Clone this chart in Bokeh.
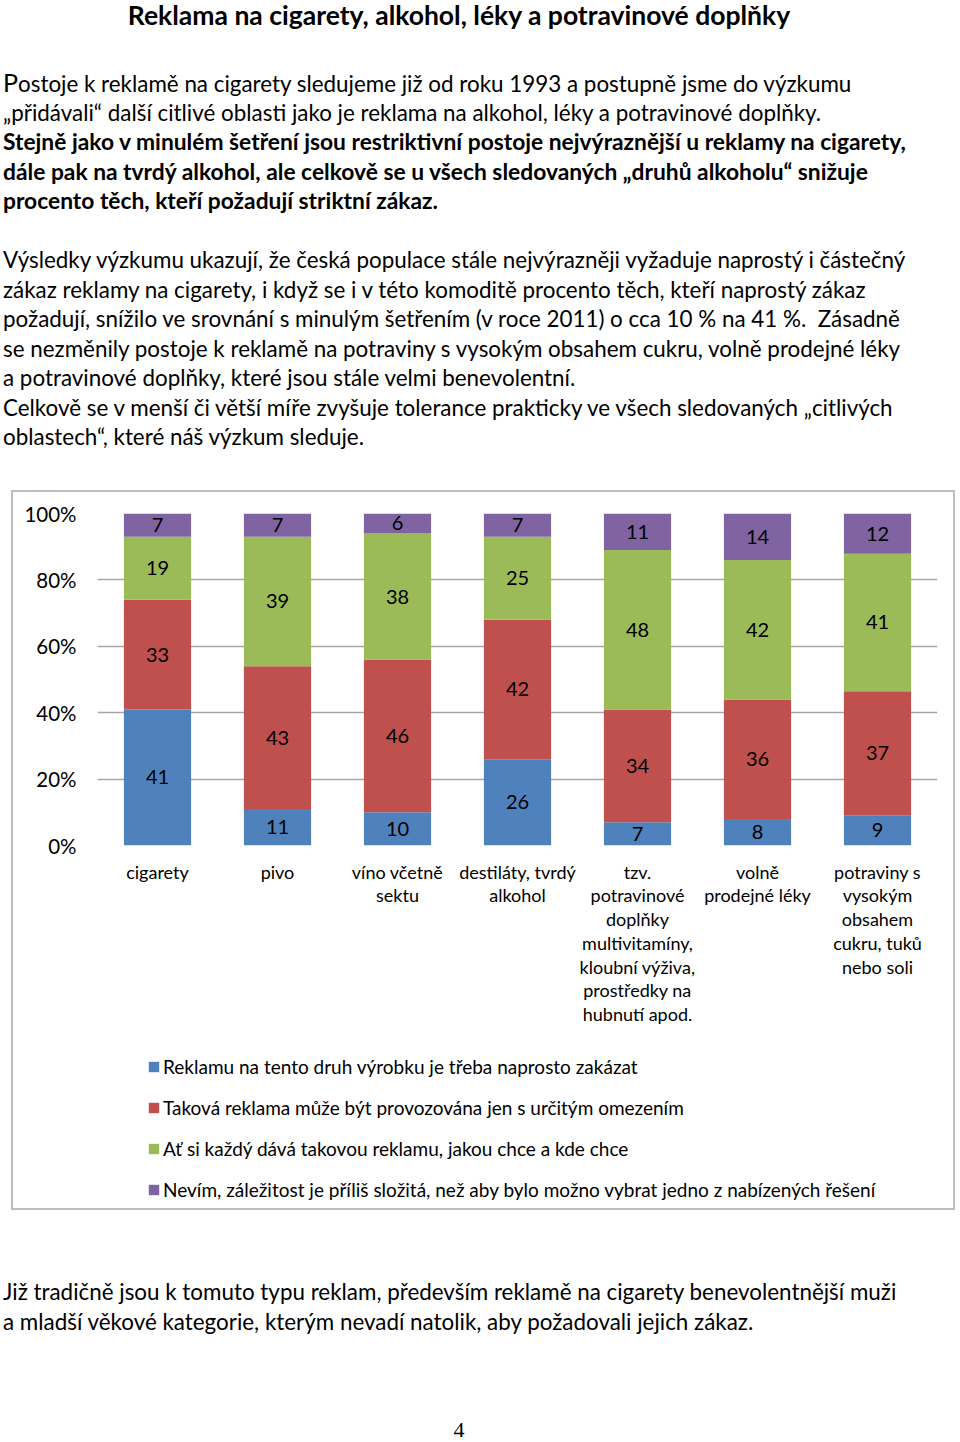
from bokeh.plotting import figure
from bokeh.models import Div, FactorRange, Range1d, Legend, LegendItem, PrintfTickFormatter, FixedTicker, ColumnDataSource
from bokeh.layouts import column
from bokeh.embed import file_html
from bokeh.resources import INLINE
from bokeh.core.properties import value
import numpy as np

FONT = "Lato"

# ---------------- data ----------------
categories = [
    "cigarety",
    "pivo",
    "víno včetně\nsektu",
    "destiláty, tvrdý\nalkohol",
    "tzv.\npotravinové\ndoplňky\nmultivitamíny,\nkloubní výživa,\nprostředky na\nhubnutí apod.",
    "volně\nprodejné léky",
    "potraviny s\nvysokým\nobsahem\ncukru, tuků\nnebo soli",
]
zakazat = [41, 11, 10, 26, 7, 8, 9]
omezeni = [33, 43, 46, 42, 34, 36, 37]
kazdy = [19, 39, 38, 25, 48, 42, 41]
nevim = [7, 7, 6, 7, 11, 14, 12]
series_names = [
    "Reklamu na tento druh výrobku je třeba naprosto zakázat",
    "Taková reklama může být provozována jen s určitým omezením",
    "Ať si každý dává takovou reklamu, jakou chce a kde chce",
    "Nevím, záležitost je příliš složitá, než aby bylo možno vybrat jedno z nabízených řešení",
]
colors = ["#4F81BD", "#C0504D", "#9BBB59", "#8064A2"]
y_ticks = [0, 20, 40, 60, 80, 100]

# ---------------- text ----------------
title = "Reklama na cigarety, alkohol, léky a potravinové doplňky"
para1 = [
    "Postoje k reklamě na cigarety sledujeme již od roku 1993 a postupně jsme do výzkumu",
    "„přidávali“ další citlivé oblasti jako je reklama na alkohol, léky a potravinové doplňky.",
]
para1_bold = [
    "Stejně jako v minulém šetření jsou restriktivní postoje nejvýraznější u reklamy na cigarety,",
    "dále pak na tvrdý alkohol, ale celkově se u všech sledovaných „druhů alkoholu“ snižuje",
    "procento těch, kteří požadují striktní zákaz.",
]
para2 = [
    "Výsledky výzkumu ukazují, že česká populace stále nejvýrazněji vyžaduje naprostý i částečný",
    "zákaz reklamy na cigarety, i když se i v této komoditě procento těch, kteří naprostý zákaz",
    "požadují, snížilo ve srovnání s minulým šetřením (v roce 2011) o cca 10 % na 41 %.&nbsp; Zásadně",
    "se nezměnily postoje k reklamě na potraviny s vysokým obsahem cukru, volně prodejné léky",
    "a potravinové doplňky, které jsou stále velmi benevolentní.",
    "Celkově se v menší či větší míře zvyšuje tolerance prakticky ve všech sledovaných „citlivých",
    "oblastech“, které náš výzkum sleduje.",
]
para3 = [
    "Již tradičně jsou k tomuto typu reklam, především reklamě na cigarety benevolentnější muži",
    "a mladší věkové kategorie, kterým nevadí natolik, aby požadovali jejich zákaz.",
]
page_no = "4"

LH = 29.5
line_style = f"height:{LH}px;line-height:{LH}px;white-space:nowrap;"

def lines(ls, bold=False):
    w = "font-weight:bold;font-size:22.8px;" if bold else ""
    return "".join(f'<div style="{line_style}{w}">{t}</div>' for t in ls)

p1 = list(para1)
p1[0] = '<span style="font-size:25px">P</span>' + p1[0][1:]

top_html = (
    f'<div style="font-family:{FONT};color:#000;font-size:22.4px;margin-left:-2px;width:944px;">'
    f'<div style="height:28px;line-height:28px;margin-top:-4px;width:912px;text-align:center;font-weight:bold;font-size:26.5px;white-space:nowrap;">{title}</div>'
    f'<div style="height:39px"></div>'
    + lines(p1) + lines(para1_bold, True)
    + f'<div style="height:{LH}px"></div>'
    + lines(para2)
    + '</div>'
)
top_div = Div(text=top_html, width=944, height=480)

bottom_html = (
    f'<div style="font-family:{FONT};color:#000;font-size:22.4px;margin-left:-2px;width:944px;">'
    f'<div style="height:62px"></div>'
    + lines(para3)
    + '<div style="height:86px"></div>'
    + f'<div style="height:16px;line-height:16px;width:912px;text-align:center;font-family:\'Liberation Serif\';font-size:22px;">{page_no}</div>'
    + '</div>'
)
bottom_div = Div(text=bottom_html, width=944, height=224)

# ---------------- chart ----------------
vals = np.array([zakazat, omezeni, kazdy, nevim], dtype=float)
tot = vals.sum(axis=0)
share = vals / tot * 100.0
keys = ["s0", "s1", "s2", "s3"]
src = ColumnDataSource(dict(cat=categories, **{k: share[i] for i, k in enumerate(keys)}))

CH_TOP, FR_H, CH_BOT = 21, 332, 200
LEG_H = 716 - CH_TOP - FR_H - CH_BOT

p = figure(
    x_range=FactorRange(*categories),
    y_range=Range1d(0, 100),
    width=940, height=CH_TOP + FR_H + CH_BOT,
    frame_width=840, frame_height=FR_H,
    min_border_left=84, min_border_right=16, min_border_top=CH_TOP, min_border_bottom=CH_BOT,
    output_backend="svg", toolbar_location=None,
)
p.outline_line_color = None
p.background_fill_color = "white"
p.border_fill_color = "white"

p.vbar_stack(keys, x="cat", width=0.56, source=src, color=colors, line_color=None)

# labels
cum = np.cumsum(share, axis=0)
centers = cum - share / 2
lab_x, lab_y, lab_t = [], [], []
for i in range(4):
    for j, c in enumerate(categories):
        lab_x.append(c)
        lab_y.append(centers[i, j])
        lab_t.append(str(int(vals[i, j])))
p.text(x=lab_x, y=lab_y, text=lab_t, text_align="center", text_baseline="middle",
       text_font=value(FONT), text_font_size="20px", text_color="#000")

# axes
p.yaxis.ticker = FixedTicker(ticks=y_ticks)
p.yaxis.formatter = PrintfTickFormatter(format="%d%%")
p.yaxis.axis_line_color = None
p.yaxis.major_tick_line_color = None
p.yaxis.minor_tick_line_color = None
p.yaxis.major_label_text_font = FONT
p.yaxis.major_label_text_font_size = "20.5px"
p.yaxis.major_label_text_color = "#000"
p.yaxis.major_label_standoff = 15

p.xaxis.axis_line_color = None
p.xaxis.major_tick_line_color = None
p.xaxis.minor_tick_line_color = None
p.xaxis.major_label_text_font = FONT
p.xaxis.major_label_text_font_size = "18px"
p.xaxis.major_label_text_color = "#000"
p.xaxis.major_label_text_line_height = 1.08
p.xaxis.major_label_standoff = 9

p.xgrid.grid_line_color = None
p.ygrid.ticker = FixedTicker(ticks=y_ticks)
p.ygrid.grid_line_color = "#a6a6a6"
p.ygrid.grid_line_width = 1.3

# legend panel (same series, drawn outside its visible range so only the legend shows)
pl = figure(
    x_range=FactorRange(*categories), y_range=Range1d(1000, 1001),
    width=940, height=LEG_H, min_border=0,
    x_axis_location=None, y_axis_location=None,
    output_backend="svg", toolbar_location=None,
)
pl.outline_line_color = None
pl.grid.grid_line_color = None
leg_r = pl.vbar_stack(keys, x="cat", width=0.56, source=src, color=colors, line_color=None)
legend = Legend(
    items=[LegendItem(label=n, renderers=[r]) for n, r in zip(series_names, leg_r)],
    location=(50, 7.5),
    orientation="vertical",
    label_text_font=FONT, label_text_font_size="19px", label_text_color="#000",
    glyph_width=13, glyph_height=13, label_standoff=3, label_height=23,
    spacing=18, padding=0, margin=0, border_line_color=None, background_fill_alpha=0,
)
pl.add_layout(legend, "center")

chart_box = column(p, pl, spacing=0, styles={"margin-left": "11px", "border": "2px solid #bdbdbd"})

layout = column(top_div, chart_box, bottom_div, spacing=0)
open("out.html", "w").write(file_html(layout, INLINE))
